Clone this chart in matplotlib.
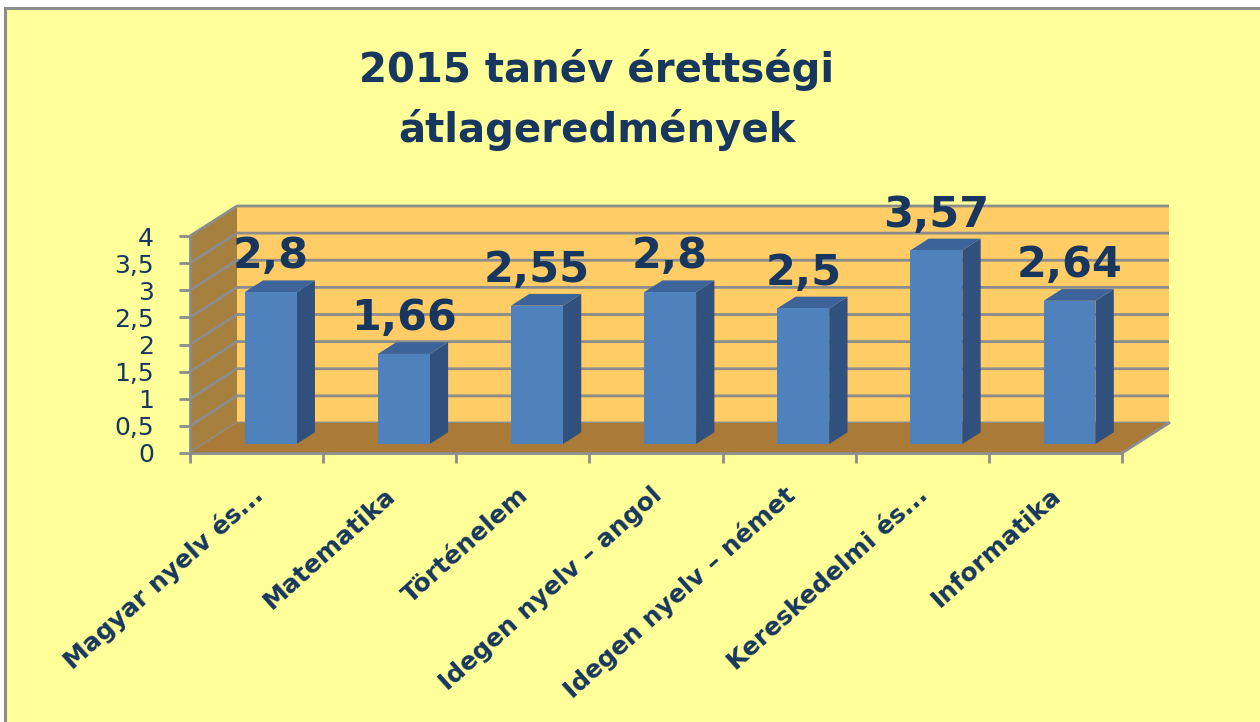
import matplotlib
matplotlib.use("Agg")
import matplotlib.pyplot as plt
from matplotlib.patches import Polygon, Rectangle
import numpy as np

# ---------------- data ----------------
categories = ["Magyar nyelv és...", "Matematika", "Történelem",
              "Idegen nyelv – angol", "Idegen nyelv – német",
              "Kereskedelmi és...", "Informatika"]
values = [2.8, 1.66, 2.55, 2.8, 2.5, 3.57, 2.64]
value_labels = ["2,8", "1,66", "2,55", "2,8", "2,5", "3,57", "2,64"]
y_ticks = [0, 0.5, 1, 1.5, 2, 2.5, 3, 3.5, 4]
y_tick_labels = ["0", "0,5", "1", "1,5", "2", "2,5", "3", "3,5", "4"]
title_lines = ["2015 tanév érettségi", "átlageredmények"]

# ---------------- style ----------------
FONT = ["DejaVu Sans"]
NAVY = "#17375E"
BG = "#FFFF99"
BACK_WALL = "#FFCC66"
SIDE_WALL = "#A6803F"
FLOOR = "#A97A38"
GRID = "#8C8C8C"
BAR_FRONT = "#4F81BD"
BAR_SIDE = "#30517D"
BAR_TOP = "#3C649A"

W, H = 1260, 722
fig = plt.figure(figsize=(W / 100, H / 100), dpi=100, facecolor="white")

# outer chart area
fig.patches.append(Rectangle((5 / W, -0.01), 1.0, (H - 8) / H + 0.01,
                             transform=fig.transFigure, facecolor=BG,
                             edgecolor="#8C8C8C", linewidth=2.2, zorder=-5))

# plot geometry (pixels): front axis origin, scales
X0, Y0 = 190.0, 453.0           # pixel of (cat 0, value 0), y from top
PX_CAT = (1122.0 - 190.0) / 7   # px per category
PX_VAL = (453.0 - 236.0) / 4    # px per value unit
DX = 47.0 / PX_CAT              # depth offset in category units
DY = 30.0 / PX_VAL              # depth offset in value units

# axes box in pixels
L, R, T, B = 140.0, 1210.0, 170.0, 480.0
ax = fig.add_axes([L / W, (H - B) / H, (R - L) / W, (B - T) / H])
ax.set_xlim((L - X0) / PX_CAT, (R - X0) / PX_CAT)
ax.set_ylim((Y0 - B) / PX_VAL, (Y0 - T) / PX_VAL)
ax.patch.set_visible(False)

n = len(categories)
ymax = y_ticks[-1]

# walls and floor
ax.add_patch(Polygon([(0, 0), (DX, DY), (DX, ymax + DY), (0, ymax)],
                     closed=True, facecolor=SIDE_WALL, edgecolor="none", zorder=1))
ax.add_patch(Polygon([(DX, DY), (n + DX, DY), (n + DX, ymax + DY), (DX, ymax + DY)],
                     closed=True, facecolor=BACK_WALL, edgecolor="none", zorder=1))
for v in y_ticks:
    ax.plot([0, DX, n + DX], [v, v + DY, v + DY], color=GRID, lw=2.0,
            zorder=2, solid_capstyle="butt")
ax.add_patch(Polygon([(0, 0), (n, 0), (n + DX, DY), (DX, DY)],
                     closed=True, facecolor=FLOOR, edgecolor="none", zorder=3))
ax.plot([n, n + DX], [0, DY], color=GRID, lw=2.0, zorder=3)

# bars (front faces via ax.bar, side/top faces from the same values)
d0, d1 = 0.30, 0.69
bw = 0.39
x = np.arange(n) + 0.5 + d0 * DX
ax.bar(x, values, width=bw, bottom=d0 * DY, color=BAR_FRONT,
       edgecolor="none", zorder=5)
ddx, ddy = (d1 - d0) * DX, (d1 - d0) * DY
for xi, v in zip(x, values):
    xl, xr = xi - bw / 2, xi + bw / 2
    yb, yt = d0 * DY, d0 * DY + v
    ax.add_patch(Polygon([(xr, yb), (xr + ddx, yb + ddy), (xr + ddx, yt + ddy), (xr, yt)],
                         closed=True, facecolor=BAR_SIDE, edgecolor="none", zorder=4))
    ax.add_patch(Polygon([(xl, yt), (xr, yt), (xr + ddx, yt + ddy), (xl + ddx, yt + ddy)],
                         closed=True, facecolor=BAR_TOP, edgecolor="none", zorder=4))

# data labels
for xi, v, lab in zip(x, values, value_labels):
    ax.annotate(lab, (xi, d0 * DY + v), xytext=(0, 17), textcoords="offset points",
                ha="center", va="baseline", fontsize=31, fontweight="bold",
                color=NAVY, family=FONT, zorder=6)

# axes (spines and ticks)
for s in ["top", "right"]:
    ax.spines[s].set_visible(False)
ax.spines["left"].set_position(("data", 0))
ax.spines["left"].set_bounds(0, ymax)
ax.spines["bottom"].set_position(("data", 0))
ax.spines["bottom"].set_bounds(0, n)
for s in ["left", "bottom"]:
    ax.spines[s].set_color(GRID)
    ax.spines[s].set_linewidth(2.0)
    ax.spines[s].set_zorder(7)

ax.set_yticks(y_ticks)
ax.set_yticklabels(y_tick_labels, fontsize=18, color=NAVY, family=FONT)
ax.tick_params(axis="y", length=8, width=2, color=GRID, pad=18)

ax.set_xticks(np.arange(n + 1))
ax.set_xticklabels([])
ax.set_xticks(np.arange(n) + 0.5 + 0.02, minor=True)
ax.set_xticklabels(categories, minor=True, fontsize=18, fontweight="bold",
                   color=NAVY, family=FONT)
ax.tick_params(axis="x", which="major", length=7, width=2, color=GRID)
ax.tick_params(axis="x", which="minor", length=0, pad=28)
for t in ax.get_xticklabels(minor=True):
    t.set_rotation(42)
    t.set_ha("right")
    t.set_va("center")
    t.set_rotation_mode("anchor")

# title
fig.text(597 / W, 1 - 82 / H, title_lines[0], ha="center", va="baseline",
         fontsize=29, fontweight="bold", color=NAVY, family=FONT)
fig.text(597 / W, 1 - 142 / H, title_lines[1], ha="center", va="baseline",
         fontsize=29, fontweight="bold", color=NAVY, family=FONT)

fig.savefig("out.png", dpi=100, facecolor=fig.get_facecolor())
